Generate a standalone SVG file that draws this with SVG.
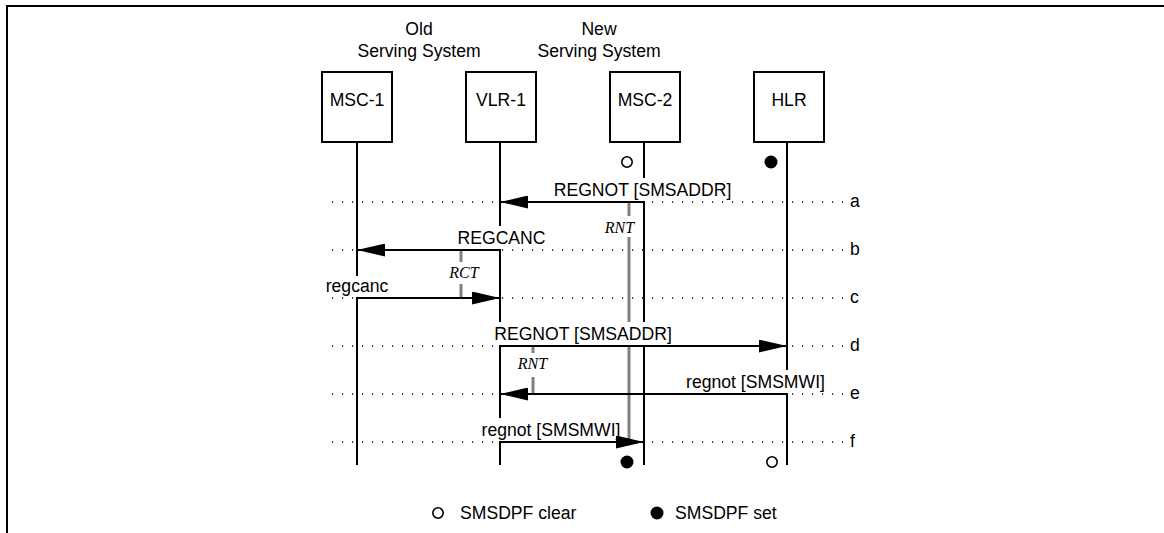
<svg xmlns="http://www.w3.org/2000/svg" width="1164" height="533" viewBox="0 0 1164 533">
<style>
.t{font-family:"Liberation Sans",Arial,sans-serif;font-size:17.6px;fill:#000}
.m{text-anchor:middle}
.tm{font-family:"Liberation Serif","Times New Roman",serif;font-style:italic;font-size:16px;fill:#000;text-anchor:middle}
.box{fill:#fff;stroke:#000;stroke-width:2}
.life{stroke:#000;stroke-width:2;fill:none}
.dot{stroke:#444;stroke-width:2.2;stroke-dasharray:1.2 8.8;fill:none}
.msg{stroke:#000;stroke-width:2;fill:none;marker-end:url(#ah)}
.tmr{stroke:#808080;stroke-width:3;fill:none}
.bg{fill:#fff}
.open{fill:#fff;stroke:#000;stroke-width:1.6}
.full{fill:#000}
</style>
<defs>
<marker id="ah" markerUnits="userSpaceOnUse" markerWidth="28" markerHeight="13" viewBox="0 0 28 13" refX="28" refY="6.5" orient="auto">
<path d="M0,0 L28,6.5 L0,13 Z" fill="#000"/>
</marker>
</defs>
<rect width="1164" height="533" fill="#fff"/>
<path d="M7,533 V6 H1164" fill="none" stroke="#000" stroke-width="2"/>

<g id="headers">
<text class="t m" x="419" y="35">Old</text>
<text class="t m" x="419" y="57">Serving System</text>
<text class="t m" x="599" y="35">New</text>
<text class="t m" x="599" y="57">Serving System</text>
</g>

<g id="lifelines">
<line class="life" x1="357" y1="143" x2="357" y2="465"/>
<line class="life" x1="500" y1="143" x2="500" y2="465"/>
<line class="life" x1="644" y1="143" x2="644" y2="465"/>
<line class="life" x1="787" y1="143" x2="787" y2="465"/>
</g>

<g id="node-msc1"><rect class="box" x="322" y="72" width="70" height="70"/><text class="t m" x="357" y="106">MSC-1</text></g>
<g id="node-vlr1"><rect class="box" x="466" y="72" width="70" height="70"/><text class="t m" x="501" y="106">VLR-1</text></g>
<g id="node-msc2"><rect class="box" x="610" y="72" width="70" height="70"/><text class="t m" x="645" y="106">MSC-2</text></g>
<g id="node-hlr"><rect class="box" x="754" y="72" width="70" height="70"/><text class="t m" x="789" y="106">HLR</text></g>

<g id="timers">
<line class="tmr" x1="629" y1="202" x2="629" y2="442"/>
<line class="tmr" x1="461" y1="250" x2="461" y2="298"/>
<line class="tmr" x1="533" y1="346" x2="533" y2="394"/>
</g>

<g id="label-bgs">
<rect class="bg" x="549" y="178" width="187" height="23"/>
<rect class="bg" x="454" y="226" width="95" height="23"/>
<rect class="bg" x="322" y="276" width="70" height="21"/>
<rect class="bg" x="490" y="322" width="186" height="23"/>
<rect class="bg" x="682" y="370" width="147" height="23"/>
<rect class="bg" x="477" y="418" width="148" height="23"/>
<rect class="bg" x="602" y="216" width="35" height="21"/>
<rect class="bg" x="446" y="262" width="36" height="22"/>
<rect class="bg" x="515" y="353" width="35" height="24"/>
</g>

<g id="rows">
<line class="dot" x1="332" y1="202" x2="843" y2="202"/>
<line class="dot" x1="332" y1="250" x2="843" y2="250"/>
<line class="dot" x1="332" y1="298" x2="843" y2="298"/>
<line class="dot" x1="332" y1="346" x2="843" y2="346"/>
<line class="dot" x1="332" y1="394" x2="843" y2="394"/>
<line class="dot" x1="332" y1="442" x2="843" y2="442"/>
<text class="t" x="850" y="207">a</text>
<text class="t" x="850" y="255">b</text>
<text class="t" x="850" y="303">c</text>
<text class="t" x="850" y="351">d</text>
<text class="t" x="850" y="399">e</text>
<text class="t" x="850" y="447">f</text>
</g>

<g id="connectors">
<line class="msg" x1="644" y1="202" x2="500" y2="202"/>
<line class="msg" x1="500" y1="250" x2="357" y2="250"/>
<line class="msg" x1="357" y1="298" x2="500" y2="298"/>
<line class="msg" x1="500" y1="346" x2="787" y2="346"/>
<line class="msg" x1="787" y1="394" x2="500" y2="394"/>
<line class="msg" x1="500" y1="442" x2="644" y2="442"/>
<text class="t m" x="642.5" y="196">REGNOT [SMSADDR]</text>
<text class="t m" x="501.5" y="244">REGCANC</text>
<text class="t m" x="357" y="292">regcanc</text>
<text class="t m" x="583" y="340">REGNOT [SMSADDR]</text>
<text class="t m" x="755.5" y="388">regnot [SMSMWI]</text>
<text class="t m" x="551" y="436">regnot [SMSMWI]</text>
<text class="tm" x="619.5" y="233">RNT</text>
<text class="tm" x="464" y="278">RCT</text>
<text class="tm" x="532.5" y="369">RNT</text>
</g>

<g id="flags">
<circle class="open" cx="627" cy="162" r="5.2"/>
<circle class="full" cx="771" cy="162" r="6.5"/>
<circle class="full" cx="627" cy="462" r="6.5"/>
<circle class="open" cx="772" cy="462" r="5.2"/>
</g>

<g id="legend">
<circle class="open" cx="438" cy="513" r="5.2"/>
<text class="t" x="460" y="519">SMSDPF clear</text>
<circle class="full" cx="657" cy="513" r="6.5"/>
<text class="t" x="675" y="519">SMSDPF set</text>
</g>
</svg>
